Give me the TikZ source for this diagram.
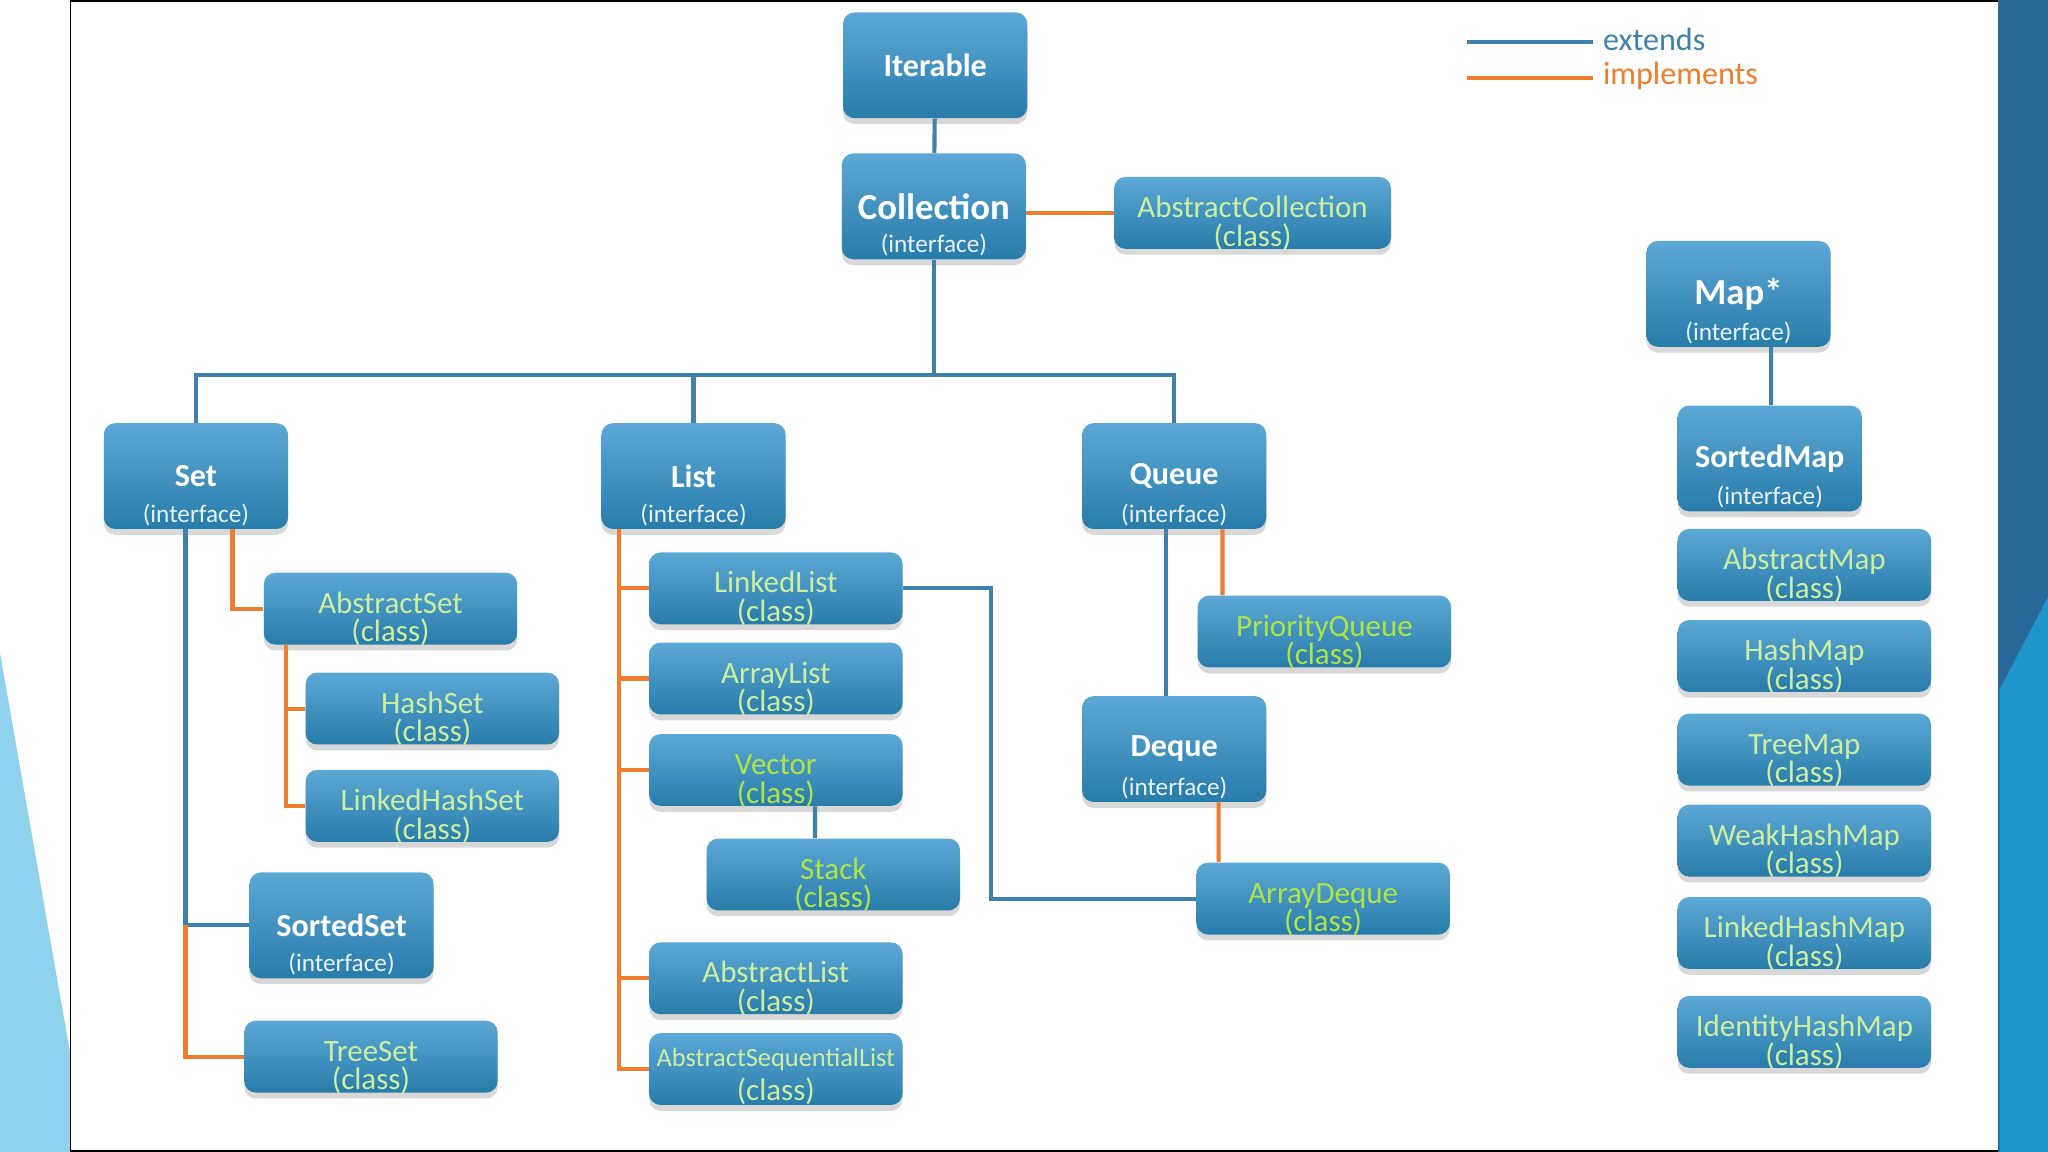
\documentclass[tikz,border=0pt]{standalone}
\usepackage{fontspec}
\setmainfont{Carlito}
\usetikzlibrary{positioning,shadows}
\definecolor{boxtop}{RGB}{92,168,214}
\definecolor{boxbot}{RGB}{40,124,170}
\definecolor{extblue}{RGB}{62,130,172}
\definecolor{implorange}{RGB}{240,125,45}
\definecolor{clspale}{RGB}{205,238,160}
\definecolor{clsgreen}{RGB}{175,228,70}
\definecolor{intftxt}{RGB}{232,242,250}
\definecolor{skyband}{RGB}{142,210,238}
\definecolor{darkband}{RGB}{40,104,152}
\definecolor{midband}{RGB}{30,150,204}
\tikzset{
    box/.style={
        rectangle,
        rounded corners=5pt,
        top color=boxtop,
        bottom color=boxbot,
        drop shadow={opacity=0.3,shadow xshift=0pt,shadow yshift=-0.9mm},
        inner sep=0pt,
    },
    intf/.style={
        box,
        minimum width=28.2mm,
        minimum height=16.2mm,
        text=white,
        font=\bfseries\fontsize{14}{16}\selectfont,
    },
    sub/.style={
        anchor=center,
        yshift=2.2mm,
        text=intftxt,
        font=\fontsize{11}{12}\selectfont,
    },
    cls/.style={
        box,
        minimum width=38.8mm,
        minimum height=11mm,
        align=center,
        text height=30pt,
        text depth=1pt,
        text=clspale,
        font=\fontsize{13.5}{12.5}\selectfont,
    },
    ext/.style={draw=extblue,line width=1.8pt},
    impl/.style={draw=implorange,line width=1.8pt},
    legtxt/.style={anchor=west,inner sep=0pt,font=\fontsize{14}{16}\selectfont},
}

\begin{document}
\begin{tikzpicture}[x=0.2mm,y=-0.2mm]
              \useasboundingbox (0,0) rectangle (1568,882);
              % slide background
              \fill[white] (0,0) rectangle (1568,882);
              \fill[skyband] (0,500) -- (54,808) -- (54,882) -- (0,882) -- cycle;
              \fill[darkband] (1530,0) rectangle (1568,882);
              \fill[midband] (1568,457) -- (1531,528) -- (1531,882) -- (1568,882) -- cycle;
              \draw[black,line width=0.8pt] (1530,1) -- (54,1) -- (54,881) -- (1530,881);

              % legend
              \coordinate (lexta) at (1123,32);
              \coordinate (lextb) at (1220,32);
              \coordinate (limpla) at (1123,60);
              \coordinate (limplb) at (1220,60);
              \node[legtxt,text=extblue] (lext) at (1227,30) {extends};
              \node[legtxt,text=implorange] (limpl) at (1227,58) {implements};
              \draw[ext] (lexta) -- (lextb);
              \draw[impl] (limpla) -- (limplb);

              \node[intf] (iter) at (716,50) {Iterable};
              \node[intf,font=\bfseries\fontsize{16}{18}\selectfont,label={[sub]south:{(interface)}}] (coll) at (715,158) {Collection};
              \node[cls,minimum width=42.4mm] (acoll) at (959,163) {AbstractCollection\\(class)};

              \node[intf,label={[sub]south:{(interface)}}] (set) at (150,364.5) {Set};
              \node[intf,label={[sub]south:{(interface)}}] (list) at (531,364.5) {List};
              \node[intf,label={[sub]south:{(interface)}}] (queue) at (899,364.5) {Queue};

              \node[cls] (aset) at (299,466) {AbstractSet\\(class)};
              \node[cls] (hset) at (331,542.5) {HashSet\\(class)};
              \node[cls] (lhset) at (331,617) {LinkedHashSet\\(class)};
              \node[intf,label={[sub]south:{(interface)}}] (sset) at (261.5,708.5) {SortedSet};
              \node[cls] (tset) at (284,809) {TreeSet\\(class)};

              \node[cls] (llist) at (594,450.5) {LinkedList\\(class)};
              \node[cls] (alist) at (594,519.5) {ArrayList\\(class)};
              \node[cls,text=clsgreen] (vec) at (594,589.5) {Vector\\(class)};
              \node[cls,text=clsgreen] (stack) at (638,669.5) {Stack\\(class)};
              \node[cls] (ablist) at (594,749) {AbstractList\\(class)};
              \node[cls,text height=29.4pt,text depth=1.6pt] (aslist) at (594,818.5) {{\fontsize{11.5}{12}\selectfont AbstractSequentialList}\\[2.5pt](class)};

              \node[cls,text=clsgreen] (pq) at (1014,483.5) {PriorityQueue\\(class)};
              \node[intf,label={[sub]south:{(interface)}}] (deque) at (899,573.5) {Deque};
              \node[cls,text=clsgreen] (adq) at (1013,688) {ArrayDeque\\(class)};

              \node[intf,font=\bfseries\fontsize{16}{18}\selectfont,label={[sub]south:{(interface)}}] (map) at (1331,225) {Map*};
              \node[intf,label={[sub]south:{(interface)}}] (smap) at (1355,351) {SortedMap};
              \node[cls] (amap) at (1381.5,432.5) {AbstractMap\\(class)};
              \node[cls,below=2.8mm of amap] (hmap) {HashMap\\(class)};
              \node[cls,below=3.2mm of hmap] (tmap) {TreeMap\\(class)};
              \node[cls,below=2.8mm of tmap] (whmap) {WeakHashMap\\(class)};
              \node[cls,below=3mm of whmap] (lhmap) {LinkedHashMap\\(class)};
              \node[cls,below=4mm of lhmap] (ihmap) {IdentityHashMap\\(class)};

              % extends / implements lines
              \coordinate (bus) at (715,287);
              \coordinate (strunk) at (142,708.5);
              \coordinate (lkbend) at (759,450.5);

              \draw[ext] (iter) -- (coll);
              \draw[impl] (coll.east |- acoll) -- (acoll);
              \draw[ext] (coll) -- (bus);
              \draw[ext] (bus) -| (set);
              \draw[ext] (bus) -| (list);
              \draw[ext] (bus) -| (queue);

              \draw[ext] (strunk |- set.south) -- (strunk) -- (sset);
              \draw[impl] (strunk) |- (tset);
              \draw[impl] ([xshift=5.6mm]set.south) |- (aset);
              \draw[impl] ([xshift=3.4mm]aset.south west) |- (hset);
              \draw[impl] ([xshift=3.4mm]aset.south west) |- (lhset);

              \draw[impl] ([xshift=2.8mm]list.south west) |- (llist);
              \draw[impl] ([xshift=2.8mm]list.south west) |- (alist);
              \draw[impl] ([xshift=2.8mm]list.south west) |- (vec);
              \draw[impl] ([xshift=2.8mm]list.south west) |- (ablist);
              \draw[impl] ([xshift=2.8mm]list.south west) |- (aslist);
              \draw[ext] ([xshift=6mm]vec.south) -- ([xshift=-2.8mm]stack.north);
              \draw[ext] (llist) -- (lkbend) |- (adq);

              \draw[ext] ([xshift=-1.2mm]queue.south) -- ([xshift=-1.2mm]deque.north);
              \draw[impl] ([xshift=7.4mm]queue.south) -- ([xshift=-15.6mm]pq.north);
              \draw[impl] ([xshift=6.8mm]deque.south) -- ([xshift=-16mm]adq.north);

              \draw[ext] ([xshift=5mm]map.south) -- ([xshift=0.2mm]smap.north);

            \end{tikzpicture}
\end{document}
